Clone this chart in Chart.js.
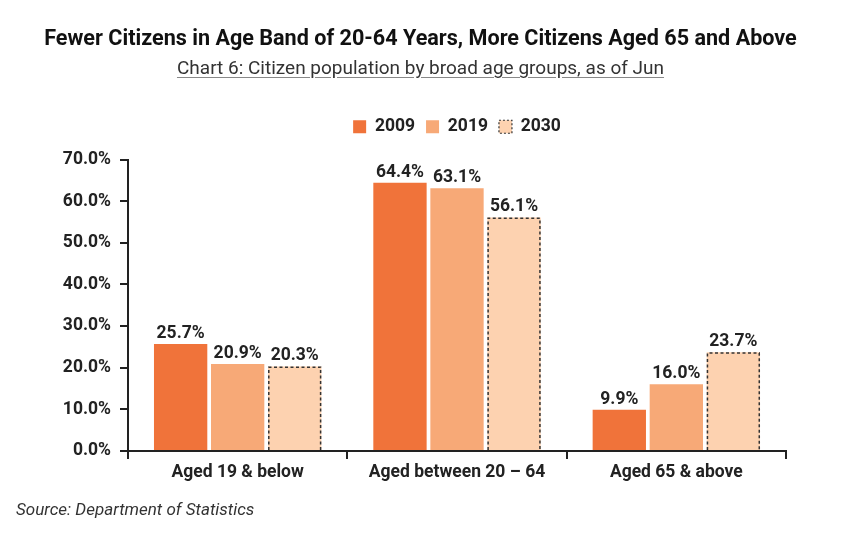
<!DOCTYPE html>
<html>
<head>
<meta charset="utf-8">
<script src="https://cdn.jsdelivr.net/npm/chart.js@4/dist/chart.umd.min.js"></script>
<style>
  html, body { margin:0; padding:0; background:#fff; }
  body { width:841px; height:542px; position:relative; overflow:hidden; font-family: Roboto, sans-serif; }
  #title { position:absolute; left:0; width:841px; top:25px; text-align:center; font-weight:700; font-size:21.6px; color:#111; line-height:26px; }
  #subtitle { position:absolute; left:0; width:841px; top:57px; text-align:center; font-size:19px; color:#333; line-height:22px; }
  #subtitle span { text-decoration: underline; text-decoration-color:#888; text-underline-offset:3px; }
  #source { position:absolute; left:16px; top:499px; font-size:17px; font-style:italic; color:#333; line-height:20px; }
  #wrap { position:absolute; left:0; top:0; width:841px; height:542px; }
</style>
</head>
<body>
<div id="wrap"><canvas id="c" width="841" height="542"></canvas></div>
<div id="title">Fewer Citizens in Age Band of 20-64 Years, More Citizens Aged 65 and Above</div>
<div id="subtitle"><span>Chart 6: Citizen population by broad age groups, as of Jun</span></div>
<div id="source">Source: Department of Statistics</div>
<script>
const categories = ["Aged 19 & below", "Aged between 20 \u2013 64", "Aged 65 & above"];
const seriesNames = ["2009", "2019", "2030"];
const values2009 = [25.7, 64.4, 9.9];
const values2019 = [20.9, 63.1, 16.0];
const values2030 = [20.3, 56.1, 23.7];
const yTicks = [0, 10, 20, 30, 40, 50, 60, 70];

const colors = ["#F0733A", "#F7A977", "#FDD2B0"];
const dashColor = "#333333";
const FS = 17.5;

Chart.defaults.font.family = "Roboto, sans-serif";
Chart.defaults.color = "#222";

const legendGap = {
  id: 'legendGap',
  beforeUpdate(chart) {
    const lg = chart.legend;
    if (lg && !lg._gapPatched) {
      const orig = lg.fit.bind(lg);
      lg.fit = function () { orig(); this.height += 14; };
      lg._gapPatched = true;
    }
  }
};

const dashedBorder = {
  id: 'dashedBorder',
  afterDatasetsDraw(chart) {
    const ctx = chart.ctx;
    const meta = chart.getDatasetMeta(2);
    ctx.save();
    ctx.strokeStyle = dashColor;
    ctx.lineWidth = 1.5;
    ctx.setLineDash([3, 2.5]);
    meta.data.forEach(bar => {
      const l = bar.x - bar.width / 2, r = bar.x + bar.width / 2;
      ctx.beginPath();
      ctx.moveTo(l + 0.75, bar.base);
      ctx.lineTo(l + 0.75, bar.y + 0.75);
      ctx.lineTo(r - 0.75, bar.y + 0.75);
      ctx.lineTo(r - 0.75, bar.base);
      ctx.stroke();
    });
    ctx.restore();
  }
};

const valueLabels = {
  id: 'valueLabels',
  afterDatasetsDraw(chart) {
    const ctx = chart.ctx;
    ctx.save();
    ctx.font = "bold " + FS + "px Roboto, sans-serif";
    ctx.fillStyle = "#222";
    ctx.textAlign = "center";
    ctx.textBaseline = "alphabetic";
    chart.data.datasets.forEach((ds, i) => {
      chart.getDatasetMeta(i).data.forEach((bar, j) => {
        ctx.fillText(ds.data[j].toFixed(1) + "%", bar.x, bar.y - 6);
      });
    });
    ctx.restore();
  }
};

new Chart(document.getElementById('c'), {
  type: 'bar',
  data: {
    labels: categories,
    datasets: [
      { label: seriesNames[0], data: values2009, backgroundColor: colors[0], borderWidth: 0 },
      { label: seriesNames[1], data: values2019, backgroundColor: colors[1], borderWidth: 0 },
      { label: seriesNames[2], data: values2030, backgroundColor: colors[2], borderWidth: 0 }
    ]
  },
  options: {
    responsive: false,
    animation: false,
    events: [],
    layout: { padding: { left: 0, right: 55, top: 107, bottom: 51 } },
    datasets: { bar: { categoryPercentage: 0.78, barPercentage: 0.935 } },
    plugins: {
      tooltip: { enabled: false },
      legend: {
        position: 'top',
        fullSize: false,
        labels: {
          boxWidth: 13,
          boxHeight: 13,
          padding: 11,
          color: "#222",
          font: { size: FS, weight: 'bold' },
          generateLabels(chart) {
            return chart.data.datasets.map((ds, i) => ({
              text: ds.label,
              fillStyle: colors[i],
              strokeStyle: i === 2 ? dashColor : colors[i],
              lineWidth: i === 2 ? 1.2 : 0,
              lineDash: i === 2 ? [2, 2] : [],
              hidden: false,
              datasetIndex: i,
              fontColor: "#222"
            }));
          }
        }
      }
    },
    scales: {
      x: {
        grid: { display: true, drawOnChartArea: false, drawTicks: true, tickLength: 8, color: "#222", lineWidth: 2, offset: true },
        border: { display: true, color: "#222", width: 2 },
        ticks: { font: { size: FS, weight: 'bold' }, color: "#222", padding: 3 },
        afterFit(scale) { scale.height = 40; }
      },
      y: {
        min: 0, max: 70,
        afterBuildTicks(scale) { scale.ticks = yTicks.map(v => ({ value: v })); },
        grid: { display: true, drawOnChartArea: false, drawTicks: true, tickLength: 8, color: "#222", lineWidth: 2 },
        border: { display: true, color: "#222", width: 2 },
        ticks: { font: { size: FS, weight: 'bold' }, color: "#222", padding: 9,
                 callback: v => v.toFixed(1) + "%" },
        afterFit(scale) { scale.width = 128; }
      }
    }
  },
  plugins: [legendGap, dashedBorder, valueLabels]
});
</script>
</body>
</html>
